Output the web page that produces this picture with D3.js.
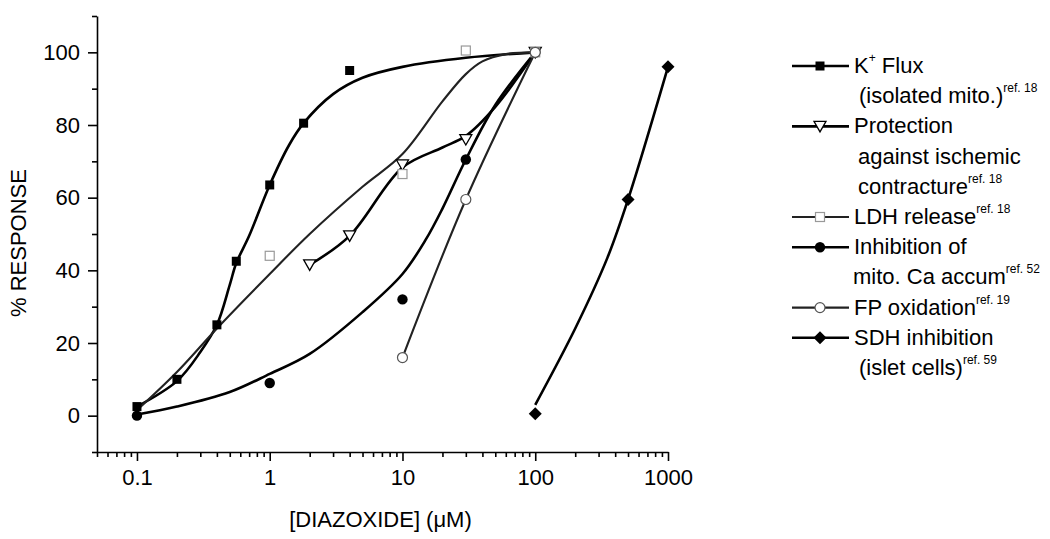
<!DOCTYPE html>
<html lang="en">
<head>
  <meta charset="UTF-8">
  <script src="https://d3js.org/d3.v7.min.js"></script>
  <title>Diazoxide dose response</title>
  <style>
    body {
      margin: 0;
      background: #fff;
      font-family: "Liberation Sans", Arial, sans-serif;
    }
    .axis path, .axis line {
      stroke: #000;
      stroke-width: 1.6px;
    }
    .axis text {
      font-family: "Liberation Sans", Arial, sans-serif;
      font-size: 22px;
      fill: #000;
    }
    .legend text {
      font-size: 22px;
      fill: #000;
    }
  </style>
</head>
<body>
  <svg id="chart" width="1050" height="539"></svg>

  <script>
    // measured points
    const kFluxX = [0.1, 0.2, 0.4, 0.56, 1, 1.8, 4, 100];
    const kFluxY = [2.5, 10, 25, 42.5, 63.5, 80.5, 95, 100];
    const protX = [2, 4, 10, 30, 100];
    const protY = [41.5, 49.5, 69, 76, 100];
    const ldhX = [1, 10, 30, 100];
    const ldhY = [44, 66.5, 100.5, 100];
    const caX = [0.1, 1, 10, 30, 100];
    const caY = [0, 9, 32, 70.5, 100];
    const fpX = [10, 30, 100];
    const fpY = [16, 59.5, 100];
    const sdhX = [100, 500, 1000];
    const sdhY = [0.5, 59.5, 96];

    // fitted curves
    const kFluxFitX = [0.1, 0.2, 0.3, 0.4, 0.5, 0.56, 0.7, 1, 1.4, 1.8, 3, 5, 10, 30, 100];
    const kFluxFitY = [2.5, 9.5, 17.5, 25, 36, 42, 49.5, 63.5, 74.5, 80.5, 88.5, 93, 96, 98.5, 100];
    const ldhFitX = [0.1, 0.2, 0.4, 1, 2, 5, 10, 20, 30, 40, 60, 100];
    const ldhFitY = [1.5, 12, 24, 39, 50, 63, 72, 86.5, 94, 97.5, 99.5, 100];
    const protFitX = [2, 4, 10, 20, 30, 50, 100];
    const protFitY = [41.5, 49.5, 68.3, 73.8, 77, 85, 100];
    const caFitX = [0.1, 0.2, 0.5, 1, 2, 5, 10, 15, 20, 30, 50, 100];
    const caFitY = [0.3, 2.5, 6.5, 11.5, 17, 28.5, 39, 48.5, 57, 70.5, 85.5, 100];
    const fpFitX = [10, 30, 100];
    const fpFitY = [16, 59.5, 100];
    const sdhFitX = [100, 200, 350, 500, 1000];
    const sdhFitY = [3, 24, 43.5, 59.5, 96];

    const xTicks = [0.1, 1, 10, 100, 1000];
    const xTickLabels = ["0.1", "1", "10", "100", "1000"];
    const yTicks = [0, 20, 40, 60, 80, 100];
    const yMinorTicks = [-10, 10, 30, 50, 70, 90, 110];

    // [text, superscript?, indent]
    const legendLabels = [
      [[["K", 0], ["+", 1], [" Flux", 0]], [["(isolated mito.)", 0], ["ref. 18", 1]]],
      [[["Protection", 0]], [["against ischemic", 0]], [["contracture", 0], ["ref. 18", 1]]],
      [[["LDH release", 0], ["ref. 18", 1]]],
      [[["Inhibition of", 0]], [["mito. Ca accum", 0], ["ref. 52", 1]]],
      [[["FP oxidation", 0], ["ref. 19", 1]]],
      [[["SDH inhibition", 0]], [["(islet cells)", 0], ["ref. 59", 1]]]
    ];
    const legendIndent = [[0, 5], [0, 4, 4], [0], [0, -1], [0], [0, 5]];

    const svg = d3.select("#chart");
    const mLeft = 97, mRight = 668, mTop = 16, mBottom = 452;

    const x = d3.scaleLog().domain([0.05, 1000]).range([mLeft, mRight]);
    const y = d3.scaleLinear().domain([-10, 110]).range([mBottom, mTop]);

    const xMinor = [];
    [0.01, 0.1, 1, 10, 100].forEach(d => {
      for (let k = 2; k <= 9; k++) {
        const v = d * k;
        if (v >= 0.05 && v <= 1000) xMinor.push(v);
      }
    });

    // axes
    svg.append("g")
      .attr("class", "axis")
      .attr("transform", `translate(0,${mBottom})`)
      .call(d3.axisBottom(x).tickValues(xMinor).tickSize(5).tickFormat(""))
      .call(g => g.select(".domain").remove());

    svg.append("g")
      .attr("class", "axis xmajor")
      .attr("transform", `translate(0,${mBottom})`)
      .call(d3.axisBottom(x).tickValues(xTicks).tickSizeInner(9).tickSizeOuter(0)
        .tickPadding(8).tickFormat((d, i) => xTickLabels[i]));

    svg.append("g")
      .attr("class", "axis")
      .attr("transform", `translate(${mLeft},0)`)
      .call(d3.axisLeft(y).tickValues(yMinorTicks).tickSize(5).tickFormat(""))
      .call(g => g.select(".domain").remove());

    svg.append("g")
      .attr("class", "axis ymajor")
      .attr("transform", `translate(${mLeft},0)`)
      .call(d3.axisLeft(y).tickValues(yTicks).tickSizeInner(9).tickSizeOuter(0).tickPadding(8));

    svg.append("text")
      .attr("transform", `translate(26,${(mTop + mBottom) / 2 + 9}) rotate(-90)`)
      .attr("text-anchor", "middle")
      .style("font-size", "22px")
      .text("% RESPONSE");

    svg.append("text")
      .attr("x", (mLeft + mRight) / 2 - 2)
      .attr("y", 527)
      .attr("text-anchor", "middle")
      .style("font-size", "22px")
      .text("[DIAZOXIDE] (\u03bcM)");

    // curves
    const line = d3.line()
      .x(d => x(d[0]))
      .y(d => y(d[1]))
      .curve(d3.curveCatmullRom.alpha(0.5));

    const zip = (a, b) => a.map((v, i) => [v, b[i]]);

    const series = [
      { fitX: kFluxFitX, fitY: kFluxFitY, px: kFluxX, py: kFluxY, marker: "sqFill", stroke: "#000", width: 2.6 },
      { fitX: protFitX, fitY: protFitY, px: protX, py: protY, marker: "tri", stroke: "#000", width: 2.6 },
      { fitX: ldhFitX, fitY: ldhFitY, px: ldhX, py: ldhY, marker: "sqOpen", stroke: "#222", width: 2.1 },
      { fitX: caFitX, fitY: caFitY, px: caX, py: caY, marker: "circFill", stroke: "#000", width: 2.6 },
      { fitX: fpFitX, fitY: fpFitY, px: fpX, py: fpY, marker: "circOpen", stroke: "#222", width: 2.1 },
      { fitX: sdhFitX, fitY: sdhFitY, px: sdhX, py: sdhY, marker: "diamond", stroke: "#000", width: 2.6 }
    ];

    function drawMarker(g, type, cx, cy) {
      if (type === "sqFill") {
        g.append("rect").attr("x", cx - 4.5).attr("y", cy - 4.5).attr("width", 9).attr("height", 9).attr("fill", "#000");
      } else if (type === "sqOpen") {
        g.append("rect").attr("x", cx - 4.5).attr("y", cy - 4.5).attr("width", 9).attr("height", 9)
          .attr("fill", "#fff").attr("stroke", "#999").attr("stroke-width", 1.2);
      } else if (type === "tri") {
        g.append("path").attr("d", `M${cx - 6},${cy - 5}L${cx + 6},${cy - 5}L${cx},${cy + 5.5}Z`)
          .attr("fill", "#fff").attr("stroke", "#000").attr("stroke-width", 1.3);
      } else if (type === "circFill") {
        g.append("circle").attr("cx", cx).attr("cy", cy).attr("r", 5.2).attr("fill", "#000");
      } else if (type === "circOpen") {
        g.append("circle").attr("cx", cx).attr("cy", cy).attr("r", 5).attr("fill", "#fff")
          .attr("stroke", "#555").attr("stroke-width", 1.2);
      } else if (type === "diamond") {
        g.append("path").attr("d", `M${cx},${cy - 6.5}L${cx + 6.5},${cy}L${cx},${cy + 6.5}L${cx - 6.5},${cy}Z`)
          .attr("fill", "#000");
      }
    }

    const plot = svg.append("g");
    series.forEach(s => {
      plot.append("path")
        .attr("d", line(zip(s.fitX, s.fitY)))
        .attr("fill", "none")
        .attr("stroke", s.stroke)
        .attr("stroke-width", s.width);
    });
    series.forEach(s => {
      const g = plot.append("g");
      zip(s.px, s.py).forEach(d => drawMarker(g, s.marker, x(d[0]), y(d[1])));
    });

    // legend
    const legend = svg.append("g").attr("class", "legend");
    let row = 0;
    legendLabels.forEach((lines, i) => {
      const s = series[i];
      const base = 73 + row * 30.2;
      legend.append("line")
        .attr("x1", 792).attr("x2", 849)
        .attr("y1", base - 7).attr("y2", base - 7)
        .attr("stroke", s.stroke).attr("stroke-width", s.width);
      drawMarker(legend, s.marker, 820, base - 7);
      lines.forEach((parts, j) => {
        const t = legend.append("text")
          .attr("x", 854 + legendIndent[i][j])
          .attr("y", base + j * 30.2);
        let raised = false;
        parts.forEach(p => {
          const ts = t.append("tspan").text(p[0]);
          if (p[1]) {
            ts.attr("dy", -11).style("font-size", "12px");
            raised = true;
          } else if (raised) {
            ts.attr("dy", 11);
            raised = false;
          }
        });
      });
      row += lines.length;
    });
  </script>
</body>
</html>
